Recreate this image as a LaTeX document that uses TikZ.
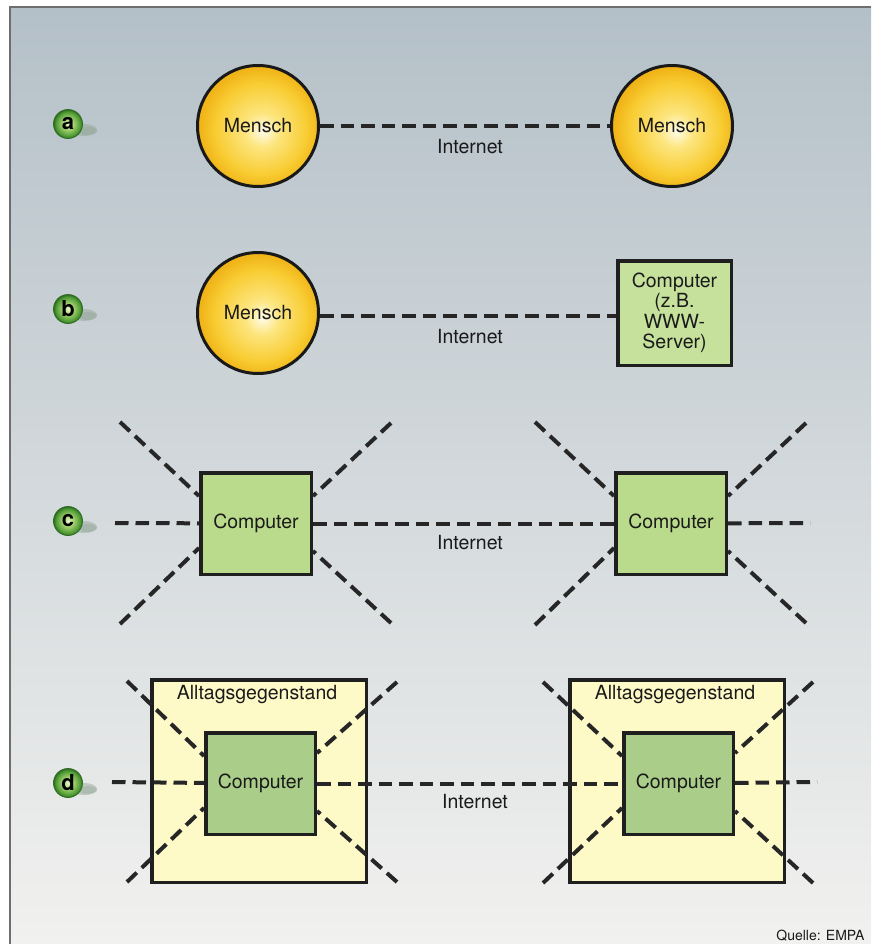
\documentclass[tikz,border=0pt]{standalone}
\usepackage{fontspec}
\setmainfont{TeX Gyre Heros}
\usetikzlibrary{calc}
\definecolor{bgtop}{HTML}{B4C0C8}
\definecolor{bgmid}{HTML}{D3D9DC}
\definecolor{bgbot}{HTML}{F1F1EF}
\definecolor{framecol}{HTML}{6E6E6E}
\definecolor{linecol}{HTML}{262626}
\definecolor{txtcol}{HTML}{1A1A1A}
\definecolor{yca}{HTML}{FFFCEA}
\definecolor{ycb}{HTML}{FDE680}
\definecolor{ycc}{HTML}{F8CC32}
\definecolor{ycd}{HTML}{F0B418}
\definecolor{gba}{HTML}{E8F6CC}
\definecolor{gbb}{HTML}{A8D472}
\definecolor{gbc}{HTML}{4E9A34}
\definecolor{gbd}{HTML}{2E6C22}
\definecolor{boxgreen}{HTML}{BADA8C}
\definecolor{boxgreenb}{HTML}{C6E19C}
\definecolor{boxgreend}{HTML}{AACD8A}
\definecolor{objyellow}{HTML}{FDFAC8}
\definecolor{shadowcol}{HTML}{8FA392}
\pgfdeclareradialshading{mensch}{\pgfpoint{2bp}{-2bp}}{color(0bp)=(yca); color(7bp)=(ycb); color(19bp)=(ycc); color(25bp)=(ycd); color(50bp)=(ycd)}
\pgfdeclareradialshading{greenball}{\pgfpoint{0bp}{0bp}}{color(0bp)=(gba); color(9bp)=(gbb); color(21bp)=(gbc); color(25bp)=(gbd); color(50bp)=(gbd)}
\begin{document}
\begin{tikzpicture}[x=1pt,y=-1pt,
  every node/.style={text=txtcol},
  maintext/.style={font=\fontsize{19.5}{20.5}\selectfont},
  netline/.style={draw=linecol, line width=4pt, dash pattern=on 13.5pt off 7pt},
  human/.style={circle, draw=black!90, line width=3pt, minimum size=121pt, inner sep=0pt, shading=mensch, maintext},
  compbox/.style={rectangle, draw=black!88, line width=3.5pt, fill=boxgreen, minimum width=110.5pt, minimum height=101.5pt, inner sep=0pt, maintext},
  objbox/.style={rectangle, draw=black!88, line width=3.5pt, fill=objyellow, minimum width=214.5pt, minimum height=202.5pt, inner sep=0pt},
  marker/.style={circle, draw=gbd, line width=0.8pt, minimum size=29pt, inner sep=0pt, shading=greenball, text=black, font=\fontsize{22}{22}\selectfont\bfseries},
  nettext/.style={maintext}
]
\useasboundingbox (0,0) rectangle (871,944);
% background
\shade[top color=bgtop, middle color=bgmid, bottom color=bgbot] (10,7) rectangle (871,944);
\draw[framecol, line width=1.6pt] (10,944) -- (10,7) -- (871,7);

% markers with shadows
\foreach \yy in {124,309,521,783}{
  \fill[shadowcol, opacity=0.45] (84,\yy+6) ellipse [x radius=13pt, y radius=6pt];
  \fill[shadowcol, opacity=0.35] (88,\yy+7) ellipse [x radius=9pt, y radius=4pt];
}
\node[marker] (la) at (68,124) {a};
\node[marker] (lb) at (68,309) {b};
\node[marker] (lc) at (68,521) {c};
\node[marker] (ld) at (68,783) {d};

% row a
\node[human] (m1) at (258,126) {Mensch};
\node[human] (m2) at (672,126) {Mensch};
\draw[netline] (m1) -- (m2);
\node[nettext] (ia) at (470,147) {Internet};

% row b
\node[human] (m3) at (258,313) {Mensch};
\node[compbox, fill=boxgreenb, minimum width=113.5pt, minimum height=104.5pt, align=center] (s1) at (674.5,313) {Computer\\(z.B.\\WWW-\\Server)};
\draw[netline] ([yshift=-3pt]m3.east) -- ([yshift=-3pt]s1.west);
\node[nettext] (ib) at (470,337) {Internet};

% row c
\node[compbox] (c1) at (256,523.5) {Computer};
\node[compbox] (c2) at (671,523.5) {Computer};
\coordinate (hc1) at (115,523);
\coordinate (hc2) at (810,523);
\draw[netline] (hc1) -- (c1);
\draw[netline] (c1) -- (c2);
\draw[netline] (c2) -- (hc2);
\node[nettext] (ic) at (470,543) {Internet};
\coordinate (c1tl) at (120,422);
\coordinate (c1tr) at (391,423);
\coordinate (c1bl) at (120,624);
\coordinate (c1br) at (391,623);
\coordinate (c2tl) at (535,422);
\coordinate (c2tr) at (806,423);
\coordinate (c2bl) at (535,625);
\coordinate (c2br) at (806,623);
\foreach \n in {c1,c2}{
  \draw[netline] (\n tl) -- ([yshift=-25pt]\n.north west);
  \draw[netline] (\n tr) -- ([yshift=-25pt]\n.north east);
  \draw[netline] (\n bl) -- ([yshift=28pt]\n.south west);
  \draw[netline] (\n br) -- ([yshift=25pt]\n.south east);
}

% row d
\node[objbox] (o1) at (259,781) {};
\node[objbox] (o2) at (677,781) {};
\node[maintext] (t1) at (257,695) {Alltagsgegenstand};
\node[maintext] (t2) at (675,695) {Alltagsgegenstand};
\node[compbox, fill=boxgreend, minimum width=109.5pt] (d1) at (260.5,783.5) {Computer};
\node[compbox, fill=boxgreend, minimum width=109.5pt] (d2) at (678.5,783.5) {Computer};
\coordinate (hd1) at (112,782);
\coordinate (hd2) at (817,782);
\draw[netline] (hd1) -- (d1);
\draw[netline] (d1) -- (d2);
\draw[netline] (d2) -- (hd2);
\node[nettext] (id) at (475,802) {Internet};
\coordinate (d1tl) at (127,681);
\coordinate (d1tr) at (397,682);
\coordinate (d1bl) at (127,882);
\coordinate (d1br) at (397,882);
\coordinate (d2tl) at (543,682);
\coordinate (d2tr) at (813,682);
\coordinate (d2bl) at (543,883);
\coordinate (d2br) at (813,883);
\foreach \n in {d1,d2}{
  \draw[netline] (\n tl) -- ([yshift=-25pt]\n.north west);
  \draw[netline] (\n tr) -- ([yshift=-22pt]\n.north east);
  \draw[netline] (\n bl) -- ([yshift=28pt]\n.south west);
  \draw[netline] (\n br) -- ([yshift=25pt]\n.south east);
}

\node[font=\fontsize{14}{14}\selectfont, anchor=east] (src) at (868,936) {Quelle: EMPA};
\end{tikzpicture}
\end{document}
